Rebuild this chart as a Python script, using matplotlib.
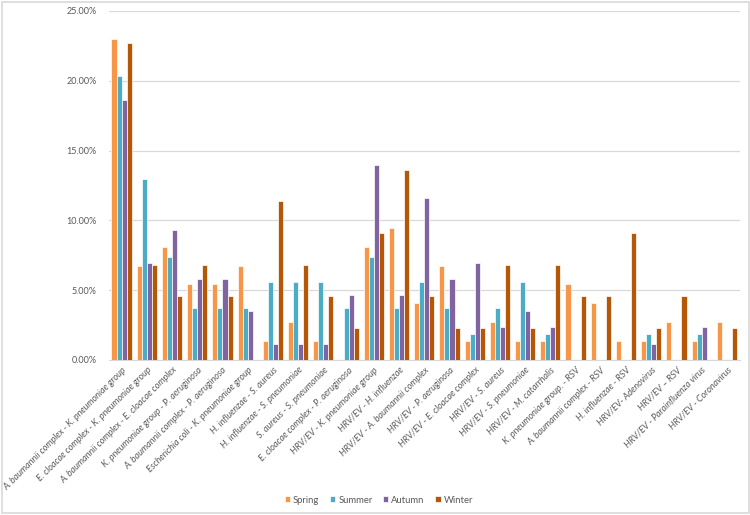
import numpy as np
import matplotlib.pyplot as plt
from matplotlib.patches import Rectangle
from matplotlib.ticker import PercentFormatter

plt.rcParams['font.family'] = ['Lato', 'DejaVu Sans']

# pairs of co-detected pathogens
categories = [
    'A. baumannii complex - K. pneumoniae group',
    'E. cloacae complex - K. pneumoniae group',
    'A. baumannii complex - E. cloacae complex',
    'K. pneumoniae group - P. aeruginosa',
    'A. baumannii complex - P. aeruginosa',
    'Escherichia coli - K. pneumoniae group',
    'H. influenzae - S. aureus',
    'H. influenzae - S. pneumoniae',
    'S. aureus - S. pneumoniae',
    'E. cloacae complex - P. aeruginosa',
    'HRV/EV - K. pneumoniae group',
    'HRV/EV - H. influenzae',
    'HRV/EV - A. baumannii complex',
    'HRV/EV - P. aeruginosa',
    'HRV/EV - E. cloacae complex',
    'HRV/EV - S. aureus',
    'HRV/EV - S. pneumoniae',
    'HRV/EV - M. catarrhalis',
    'K. pneumoniae group. - RSV',
    'A. baumannii complex - RSV',
    'H. influenzae - RSV',
    'HRV/EV- Adenovirus',
    'HRV/EV \u2013 RSV',
    'HRV/EV - Parainfluenza virus',
    'HRV/EV - Coronavirus',
]

# percentages per season (0 = no bar)
spring = [22.97, 6.76, 8.11, 5.41, 5.41, 6.76, 1.35, 2.70, 1.35, 0, 8.11, 9.46, 4.05,
          6.76, 1.35, 2.70, 1.35, 1.35, 5.41, 4.05, 1.35, 1.35, 2.70, 1.35, 2.70]
summer = [20.37, 12.96, 7.41, 3.70, 3.70, 3.70, 5.56, 5.56, 5.56, 3.70, 7.41, 3.70, 5.56,
          3.70, 1.85, 3.70, 5.56, 1.85, 0, 0, 0, 1.85, 0, 1.85, 0]
autumn = [18.60, 6.98, 9.30, 5.81, 5.81, 3.49, 1.16, 1.16, 1.16, 4.65, 13.95, 4.65, 11.63,
          5.81, 6.98, 2.33, 3.49, 2.33, 0, 0, 0, 1.16, 0, 2.33, 0]
winter = [22.73, 6.82, 4.55, 6.82, 4.55, 0, 11.36, 6.82, 4.55, 2.27, 9.09, 13.64, 4.55,
          2.27, 2.27, 6.82, 2.27, 6.82, 4.55, 4.55, 9.09, 2.27, 4.55, 0, 2.27]

seasons = ['Spring', 'Summer', 'Autumn', 'Winter']
colors = ['#F79646', '#4BACC6', '#8064A2', '#B65708']

fig = plt.figure(figsize=(7.5, 5.15), dpi=100)
ax = fig.add_axes([0.1453, 0.301, 0.8407, 0.6777])

x = np.arange(len(categories))
w = 0.2
for k, vals in enumerate([spring, summer, autumn, winter]):
    vals = np.array(vals)
    ax.bar(x + (k - 1.5) * w, vals, width=w, color=colors[k], edgecolor='white',
           linewidth=0.5, label=seasons[k], zorder=3)

ax.set_xlim(-0.5, len(categories) - 0.5)
ax.set_ylim(0, 25)
ax.set_yticks(np.arange(0, 26, 5))
ax.yaxis.set_major_formatter(PercentFormatter(decimals=2))
ax.grid(axis='y', color='#D9D9D9', linewidth=0.9, zorder=0)
for s in ['top', 'right', 'left']:
    ax.spines[s].set_visible(False)
ax.spines['bottom'].set_color('#D9D9D9')
ax.tick_params(axis='y', length=0, pad=9, labelsize=6.5, labelcolor='#595959')
ax.tick_params(axis='x', length=0, pad=4)
ax.set_xticks(x)
ax.set_xticklabels(categories, rotation=45, ha='right', rotation_mode='anchor',
                   fontsize=6.5, color='#595959', style='italic')

leg = fig.legend(loc='center', bbox_to_anchor=(0.505, 0.029), ncol=4, frameon=False,
                 fontsize=6.8, handlelength=0.6, handleheight=0.6, handletextpad=0.3,
                 columnspacing=1.1, labelcolor='#595959')

# chart area border
fig.patches.append(Rectangle((0.002, 0.004), 0.996, 0.992, transform=fig.transFigure,
                             fill=False, edgecolor='#D9D9D9', linewidth=1.2))

fig.savefig('out.png', dpi=100)
